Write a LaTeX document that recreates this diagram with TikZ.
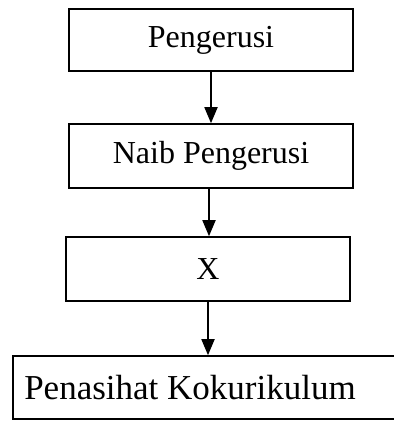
\documentclass[tikz,border=0pt]{standalone}
\usepackage{fontspec}
\setmainfont{Liberation Serif}
\usetikzlibrary{arrows.meta}
\begin{document}
\begin{tikzpicture}[x=1pt,y=-1pt,
  box/.style={draw=black, line width=1.6pt, minimum height=62pt, inner sep=0pt, font=\fontsize{32}{38}\selectfont},
  arr/.style={line width=1.8pt, -{Triangle[length=16pt,width=13pt]}}]
\useasboundingbox (0,0) rectangle (394,421);
\node[box, minimum width=284pt, minimum height=62pt] (b1) at (211,40) {Pengerusi};
\node[box, minimum width=284pt, minimum height=64pt] (b2) at (211,156) {Naib Pengerusi};
\node[box, minimum width=284pt, minimum height=64pt] (b3) at (208,269) {X};
\node[box, minimum width=430pt, minimum height=63pt] (b4) at (228,387.5) {};
\node[font=\fontsize{35}{42}\selectfont, inner sep=0pt] (t4) at (190,387.5) {Penasihat Kokurikulum};
\draw[arr] (b1.south) -- (b2.north);
\draw[arr] ([xshift=-2pt]b2.south) -- ([xshift=-2pt]b2.south |- b3.north);
\draw[arr] (b3.south) -- (b3.south |- b4.north);
\end{tikzpicture}
\end{document}
